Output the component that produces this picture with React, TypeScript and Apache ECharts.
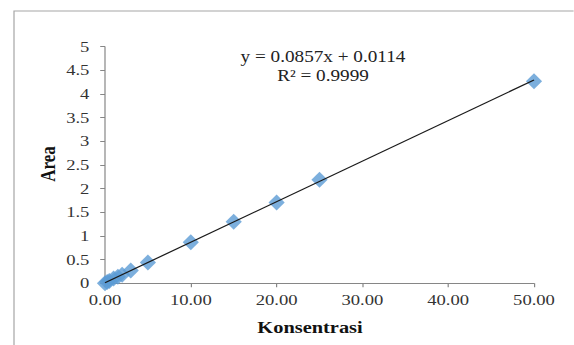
import React, { useEffect, useRef } from "react";
import * as echarts from "echarts";

const concentrations = [0, 0.25, 0.5, 1, 1.5, 2, 3, 5, 10, 15, 20, 25, 50];
const areas = [0.0, 0.03, 0.05, 0.1, 0.14, 0.18, 0.27, 0.44, 0.87, 1.3, 1.71, 2.19, 4.27];
const slope = 0.0857;
const intercept = 0.0114;
const equationText = "y = 0.0857x + 0.0114";
const r2Text = "R² = 0.9999";
const xTitle = "Konsentrasi";
const yTitle = "Area";

const SX = 1.2;
const W = 574 / SX;
const H = 345;
const FONT = '"Liberation Serif", "Times New Roman", serif';

export default function App() {
  const ref = useRef<HTMLDivElement>(null);
  useEffect(() => {
    if (!ref.current) return;
    const chart = echarts.init(ref.current, undefined, { renderer: "svg", width: W, height: H });
    const xMin = Math.min(...concentrations);
    const xMax = Math.max(...concentrations);
    const scatterData = concentrations.map((c, i) => [c, areas[i]]);
    const trendData = [
      [xMin, slope * xMin + intercept],
      [xMax, slope * xMax + intercept],
    ];
    chart.setOption({
      animation: false,
      backgroundColor: "#ffffff",
      grid: { left: 105 / SX, right: W - 534 / SX, top: 46.7, bottom: H - 283.3, containLabel: false },
      xAxis: {
        type: "value",
        min: 0,
        max: 50,
        interval: 10,
        axisLine: { show: true, lineStyle: { color: "#868686", width: 1 } },
        axisTick: { show: true, inside: false, length: 4, lineStyle: { color: "#868686" } },
        splitLine: { show: false },
        axisLabel: {
          formatter: (v: number) => v.toFixed(2),
          fontFamily: FONT,
          fontSize: 15.5,
          color: "#333333",
          margin: 9,
        },
      },
      yAxis: {
        type: "value",
        min: 0,
        max: 5,
        interval: 0.5,
        axisLine: { show: true, lineStyle: { color: "#868686", width: 1 } },
        axisTick: { show: true, inside: false, length: 4, lineStyle: { color: "#868686" } },
        splitLine: { show: false },
        axisLabel: {
          fontFamily: FONT,
          fontSize: 15.5,
          color: "#333333",
          margin: 13,
        },
      },
      series: [
        {
          type: "scatter",
          data: scatterData,
          symbol: "diamond",
          symbolSize: [13.5, 16],
          itemStyle: { color: "#5B9BD5" },
          z: 2,
        },
        {
          type: "line",
          data: trendData,
          symbol: "none",
          lineStyle: { color: "#1a1a1a", width: 1.2 },
          z: 3,
        },
      ],
      graphic: [
        {
          type: "rect",
          shape: { x: 14 / SX, y: 11, width: 1000, height: 1000 },
          style: { fill: "none", stroke: "#a6a6a6", lineWidth: 1 },
          silent: true,
          z: -1,
        },
        {
          type: "text",
          x: 323 / SX,
          y: 57,
          style: {
            text: equationText,
            font: `16px ${FONT}`,
            fill: "#222222",
            textAlign: "center",
            textVerticalAlign: "middle",
          },
        },
        {
          type: "text",
          x: 323 / SX,
          y: 76,
          style: {
            text: r2Text,
            font: `16px ${FONT}`,
            fill: "#222222",
            textAlign: "center",
            textVerticalAlign: "middle",
          },
        },
        {
          type: "text",
          x: 310 / SX,
          y: 327,
          style: {
            text: xTitle,
            font: `bold 17px ${FONT}`,
            fill: "#111111",
            textAlign: "center",
            textVerticalAlign: "middle",
          },
        },
        {
          type: "text",
          x: 48 / SX,
          y: 164,
          rotation: Math.PI / 2,
          style: {
            text: yTitle,
            font: `bold 17px ${FONT}`,
            fill: "#111111",
            textAlign: "center",
            textVerticalAlign: "middle",
          },
        },
      ],
    });
    return () => chart.dispose();
  }, []);
  return (
    <div
      style={{
        position: "fixed",
        left: 0,
        top: 0,
        width: 574,
        height: 345,
        overflow: "hidden",
        background: "#ffffff",
      }}
    >
      <div
        ref={ref}
        style={{
          width: W,
          height: H,
          transform: `scaleX(${SX})`,
          transformOrigin: "0 0",
        }}
      />
    </div>
  );
}
